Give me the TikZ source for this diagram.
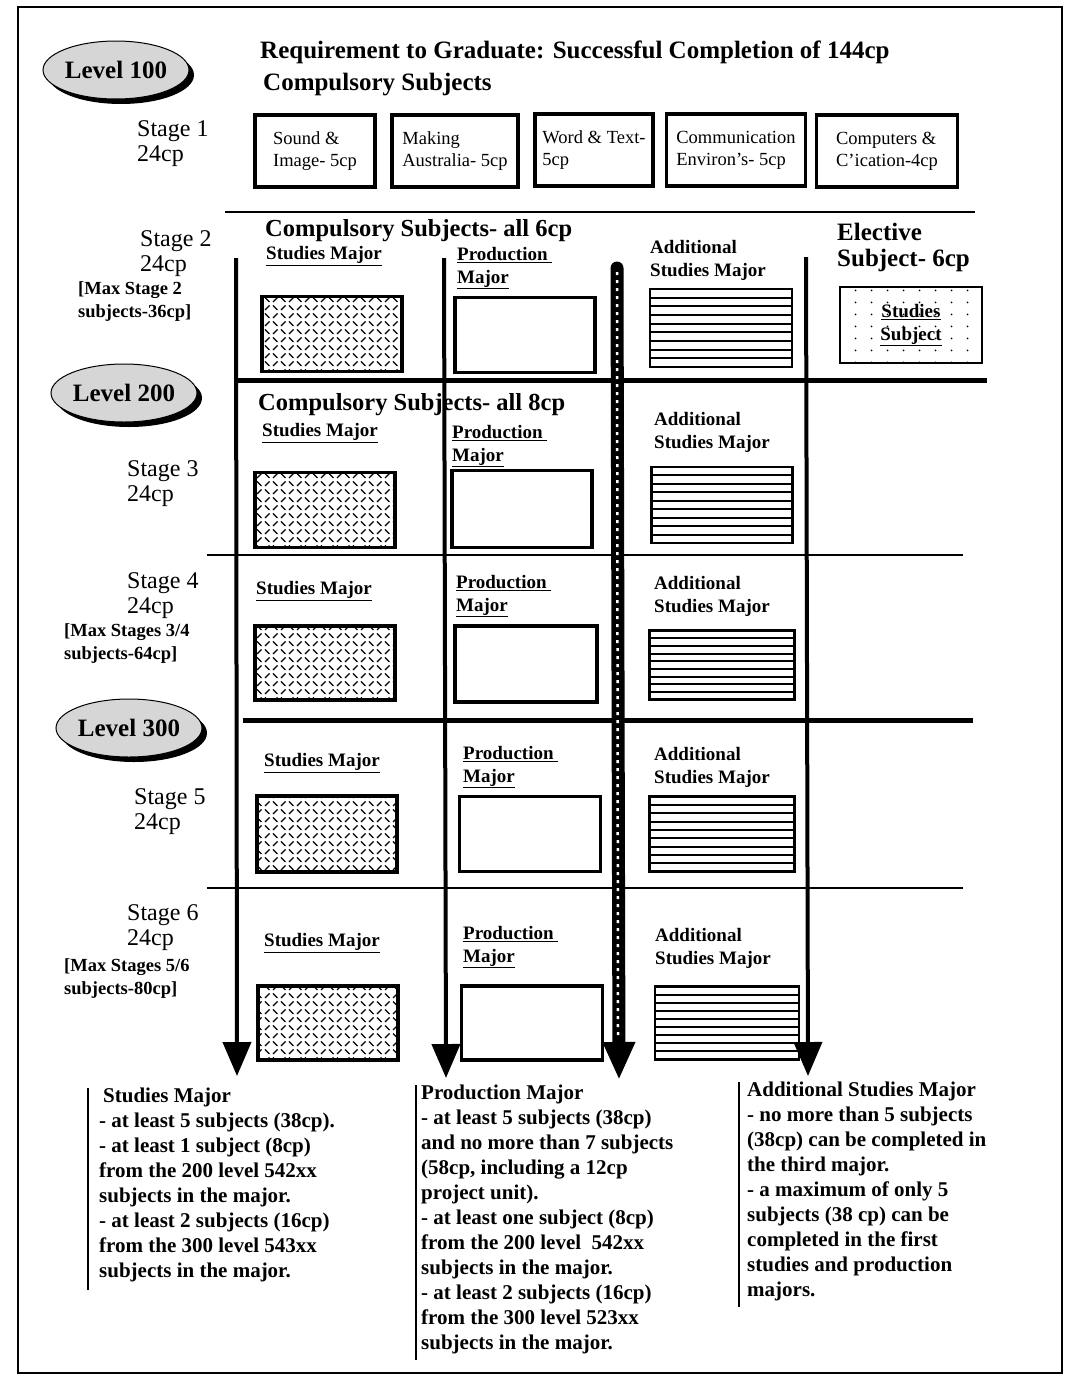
\documentclass[tikz,border=0pt]{standalone}
\usepackage{fontspec}
\setmainfont{Liberation Serif}
\usetikzlibrary{positioning,arrows.meta,shapes.geometric,shadows,patterns,calc}

% fills for the studies and elective boxes
\pgfdeclarepatternformonly{studyhatch}{\pgfqpoint{-1pt}{-1pt}}{\pgfqpoint{17pt}{17pt}}{\pgfqpoint{16pt}{16pt}}{%
  \pgfsetlinewidth{1.3pt}%
  \pgfpathmoveto{\pgfqpoint{1pt}{14.5pt}}\pgfpathlineto{\pgfqpoint{5.5pt}{10pt}}%
  \pgfpathmoveto{\pgfqpoint{9pt}{10pt}}\pgfpathlineto{\pgfqpoint{13.5pt}{14.5pt}}%
  \pgfpathmoveto{\pgfqpoint{1pt}{2pt}}\pgfpathlineto{\pgfqpoint{5.5pt}{6.5pt}}%
  \pgfpathmoveto{\pgfqpoint{9pt}{6.5pt}}\pgfpathlineto{\pgfqpoint{13.5pt}{2pt}}%
  \pgfusepath{stroke}}
\pgfdeclarepatternformonly{electdots}{\pgfpointorigin}{\pgfqpoint{16pt}{12pt}}{\pgfqpoint{16pt}{12pt}}{%
  \pgfpathcircle{\pgfqpoint{8pt}{6pt}}{1pt}\pgfusepath{fill}}

\begin{document}
\begin{tikzpicture}[
  x=1pt, y=-1pt,
  levelbadge/.style={ellipse,draw,line width=1pt,fill=gray!32,minimum width=146pt,minimum height=58pt,inner sep=0pt,
    font=\fontsize{25}{25}\selectfont\bfseries,drop shadow={shadow xshift=5pt,shadow yshift=-5pt,fill=black,opacity=1}},
  stagelbl/.style={anchor=west,align=left,inner sep=0pt,font=\fontsize{24}{25}\selectfont},
  maxnote/.style={anchor=west,align=left,inner sep=0pt,font=\fontsize{18.5}{23}\selectfont\bfseries},
  heading/.style={anchor=west,inner sep=0pt,font=\fontsize{24.5}{26}\selectfont\bfseries},
  major/.style={anchor=west,align=left,inner sep=0pt,font=\fontsize{19}{23}\selectfont\bfseries},
  subj/.style={draw,line width=3.5pt,align=left,inner xsep=4pt,font=\fontsize{18.5}{22}\selectfont,minimum height=72pt},
  studybox/.style={draw,line width=3.5pt,pattern=studyhatch,minimum width=140pt,minimum height=75pt},
  prodbox/.style={draw,line width=3.5pt,fill=white,minimum width=140pt,minimum height=75pt},
  addbox/.style={draw,line width=2.5pt,minimum width=143pt,minimum height=75pt,
    path picture={\foreach \k in {1,...,8}
      \draw[line width=2pt] ($(path picture bounding box.north west)!\k/9!(path picture bounding box.south west)$)
        -- ($(path picture bounding box.north east)!\k/9!(path picture bounding box.south east)$);}},
  track/.style={line width=4pt,-{Triangle[width=28pt,length=34pt]}},
  thinrule/.style={line width=1.3pt},
  thickrule/.style={line width=5pt},
  notes/.style={anchor=north west,align=left,inner sep=0pt,font=\fontsize{21}{25}\selectfont\bfseries},
  notebar/.style={line width=2.5pt},
]
\useasboundingbox (0,0) rectangle (1067,1376);
\draw[line width=1.5pt] (18,7) rectangle (1062,1373);
% levels
\node[levelbadge] (lv100) at (116,70) {Level 100};
\node[levelbadge] (lv200) at (124,393) {Level 200};
\node[levelbadge] (lv300) at (129,728) {Level 300};
% heading and stage 1
\node[anchor=west,inner sep=0pt,font=\fontsize{25}{26}\selectfont\bfseries] (title) at (260,52) {Requirement to Graduate: Successful Completion of 144cp};
\node[anchor=west,inner sep=0pt,font=\fontsize{25}{26}\selectfont\bfseries] (comp1) at (263,85) {Compulsory Subjects};
\node[subj,minimum width=120pt] (sound) at (315,151) {Sound \&\\Image- 5cp};
\node[subj,minimum width=126pt] (making) at (455,151) {Making\\Australia- 5cp};
\node[subj,minimum width=118pt] (word) at (594,150) {Word \& Text-\\5cp};
\node[subj,minimum width=139pt] (commenv) at (736,150) {Communication\\Environ's- 5cp};
\node[subj,minimum width=141pt] (computers) at (887,151) {Computers \&\\C'ication-4cp};
% stages
\node[stagelbl] (st1) at (137,144) {Stage 1\\24cp};
\node[stagelbl] (st2) at (140,254) {Stage 2\\24cp};
\node[stagelbl] (st3) at (127,484) {Stage 3\\24cp};
\node[stagelbl] (st4) at (127,596) {Stage 4\\24cp};
\node[stagelbl] (st5) at (134,812) {Stage 5\\24cp};
\node[stagelbl] (st6) at (127,928) {Stage 6\\24cp};
\node[maxnote] (max2) at (78,302) {[Max Stage 2\\subjects-36cp]};
\node[maxnote] (max4) at (64,644) {[Max Stages 3/4\\subjects-64cp]};
\node[maxnote] (max6) at (64,979) {[Max Stages 5/6\\subjects-80cp]};
% stage 2
\node[heading] (comp2) at (265,231) {Compulsory Subjects- all 6cp};
\node[anchor=west,align=left,inner sep=0pt,font=\fontsize{25}{26}\selectfont\bfseries] (elect) at (837,247) {Elective\\Subject- 6cp};
\node[major] (sm2) at (266,256) {\underline{Studies Major}};
\node[major] (pm2) at (457,268) {\underline{Production~}\\\underline{Major}};
\node[major] (am2) at (650,260) {Additional\\Studies Major};
\node[studybox] (sb2) at (332,334) {};
\node[prodbox] (pb2) at (525,335) {};
\node[addbox,minimum width=142pt,minimum height=78pt] (ab2) at (721,328) {};
\node[draw,line width=2.5pt,pattern=electdots,minimum width=142pt,minimum height=76pt,align=center,
      font=\fontsize{19}{23}\selectfont\bfseries] (eb2) at (911,325) {\underline{Studies}\\\underline{Subject}};
% stage 3
\node[heading] (comp3) at (258,405) {Compulsory Subjects- all 8cp};
\node[major] (sm3) at (262,433) {\underline{Studies Major}};
\node[major] (pm3) at (452,446) {\underline{Production~}\\\underline{Major}};
\node[major] (am3) at (654,432) {Additional\\Studies Major};
\node[studybox] (sb3) at (325,510) {};
\node[prodbox,minimum height=77pt] (pb3) at (522,509) {};
\node[addbox,minimum width=141pt,minimum height=76pt] (ab3) at (722,505) {};
% stage 4
\node[major] (sm4) at (256,591) {\underline{Studies Major}};
\node[major] (pm4) at (456,596) {\underline{Production~}\\\underline{Major}};
\node[major] (am4) at (654,596) {Additional\\Studies Major};
\node[studybox,minimum height=74pt] (sb4) at (325,663) {};
\node[prodbox,minimum width=142pt,minimum height=76pt] (pb4) at (526,664) {};
\node[addbox,minimum width=145pt,minimum height=69pt] (ab4) at (722,665) {};
% stage 5
\node[major] (sm5) at (264,763) {\underline{Studies Major}};
\node[major] (pm5) at (463,767) {\underline{Production~}\\\underline{Major}};
\node[major] (am5) at (654,767) {Additional\\Studies Major};
\node[studybox,minimum height=76pt] (sb5) at (327,834) {};
\node[prodbox,minimum width=141pt] (pb5) at (530,834) {};
\node[addbox,minimum width=145pt] (ab5) at (722,834) {};
% stage 6
\node[major] (sm6) at (264,943) {\underline{Studies Major}};
\node[major] (pm6) at (463,947) {\underline{Production~}\\\underline{Major}};
\node[major] (am6) at (655,948) {Additional\\Studies Major};
\node[studybox,minimum height=74pt] (sb6) at (328,1023) {};
\node[prodbox,minimum width=141pt,minimum height=74pt] (pb6) at (532,1023) {};
\node[addbox,minimum width=144pt,minimum height=73pt] (ab6) at (727,1023) {};
% dividers
\draw[thinrule] (225,212) -- (975,212);
\draw[thinrule] (207,555) -- (963,555);
\draw[thinrule] (207,888) -- (963,888);
\draw[thickrule] (236,380) -- (987,380);
\draw[thickrule] (243,720) -- (973,720);
% tracks down to the notes
\coordinate (aTop) at (236,258);
\coordinate (aEnd) at (237,1076);
\coordinate (bTop) at (444,258);
\coordinate (bEnd) at (446,1078);
\coordinate (cTop) at (617,268);
\coordinate (cMid) at (618,1036);
\coordinate (cEnd) at (619,1080);
\coordinate (dTop) at (806,257);
\coordinate (dEnd) at (808,1076);
\draw[track] (aTop) -- (aEnd);
\draw[track] (bTop) -- (bEnd);
\draw[track] (dTop) -- (dEnd);
\draw[line width=13pt,line cap=round,-{Triangle[width=30pt,length=38pt]}] (cTop) -- (cEnd);
\draw[white,line width=2.5pt,dash pattern=on 3pt off 5pt] ([yshift=-4pt]cTop) -- (cMid);
% notes
\node[notes] (studnote) at (99,1088) {\hspace{4pt}Studies Major\\- at least 5 subjects (38cp).\\- at least 1 subject (8cp)\\from the 200 level 542xx\\subjects in the major.\\- at least 2 subjects (16cp)\\from the 300 level 543xx\\subjects in the major.};
\node[notes] (prodnote) at (421,1085) {Production Major\\- at least 5 subjects (38cp)\\and no more than 7 subjects\\(58cp, including a 12cp\\project unit).\\- at least one subject (8cp)\\from the 200 level\ \ 542xx\\subjects in the major.\\- at least 2 subjects (16cp)\\from the 300 level 523xx\\subjects in the major.};
\node[notes] (addnote) at (747,1082) {Additional Studies Major\\- no more than 5 subjects\\(38cp) can be completed in\\the third major.\\- a maximum of only 5\\subjects (38 cp) can be\\completed in the first\\studies and production\\majors.};
\draw[notebar] ([xshift=-11pt]studnote.north west) -- ([xshift=-11pt,yshift=-8pt]studnote.south west);
\draw[notebar] ([xshift=-5pt]prodnote.north west) -- ([xshift=-5pt,yshift=-6pt]prodnote.south west);
\draw[notebar] ([xshift=-8pt]addnote.north west) -- ([xshift=-8pt,yshift=-6pt]addnote.south west);
\end{tikzpicture}
\end{document}
